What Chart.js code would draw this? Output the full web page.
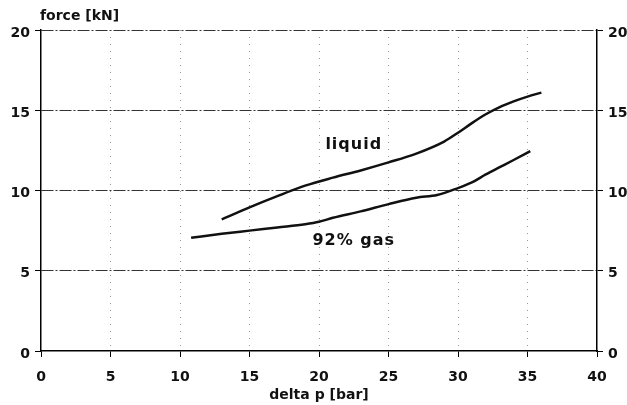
<!DOCTYPE html>
<html>
<head>
<meta charset="utf-8">
<script src="https://cdn.jsdelivr.net/npm/chart.js@4.4.0/dist/chart.umd.min.js"></script>
<style>
  html, body { margin: 0; padding: 0; background: #fff; }
  #wrap { width: 627px; height: 405px; position: relative; }
</style>
</head>
<body>
<div id="wrap"><canvas id="chart"></canvas></div>
<script>
// values
const xTicks = [0, 5, 10, 15, 20, 25, 30, 35, 40]
const yTicks = [0, 5, 10, 15, 20]

const liquidP = [13, 15, 17, 19, 21, 23, 25, 27, 29, 30, 31, 32, 33, 34, 35, 36]
const liquidF = [8.2, 8.95, 9.65, 10.3, 10.8, 11.25, 11.75, 12.3, 13.05, 13.6, 14.2, 14.75, 15.2, 15.55, 15.85, 16.1]

const gasP = [10.8, 13, 15, 17, 19, 20, 21, 23, 25, 27, 28.5, 30, 31, 32, 33, 34, 35.2]
const gasF = [7.05, 7.3, 7.5, 7.7, 7.9, 8.05, 8.3, 8.7, 9.15, 9.55, 9.72, 10.15, 10.5, 11.0, 11.45, 11.9, 12.45]

const seriesNames = ['liquid', '92% gas']
const yTitle = 'force [kN]'
const xTitle = 'delta p [bar]'

const FONT = 'DejaVu Sans'
const INK = '#111'
const NONE = 'rgba(0,0,0,0)'

function toPoints(xs, ys) {
  return xs.map((x, i) => ({ x: x, y: ys[i] }))
}

// text labels placed in data coordinates next to each curve
const curveLabels = {
  id: 'curveLabels',
  afterDatasetsDraw(chart) {
    const { ctx, scales: { x, y }, chartArea } = chart
    ctx.save()
    ctx.fillStyle = INK
    ctx.font = 'bold 16px "' + FONT + '"'
    ctx.textAlign = 'center'
    ctx.textBaseline = 'middle'
    if ('letterSpacing' in ctx) ctx.letterSpacing = '1px'
    ctx.fillText(seriesNames[0], x.getPixelForValue(22.5), y.getPixelForValue(12.85))
    ctx.fillText(seriesNames[1], x.getPixelForValue(22.5), y.getPixelForValue(6.85))
    if ('letterSpacing' in ctx) ctx.letterSpacing = '0px'
    // axis caption above the left axis
    ctx.font = 'bold 14px "' + FONT + '"'
    ctx.textAlign = 'left'
    ctx.fillText(yTitle, chartArea.left - 1, 16)
    ctx.restore()
  }
}

const yAxis = (pos, w, showGrid) => ({
  type: 'linear',
  position: pos,
  min: 0,
  max: 20,
  afterBuildTicks: s => { s.ticks = yTicks.map(v => ({ value: v })) },
  afterFit: s => { s.width = w },
  border: { display: true, color: '#000', width: 1.5, dash: [12, 2, 2, 2] },
  grid: {
    display: true,
    drawOnChartArea: showGrid,
    color: c => (c.tick && c.tick.value === 0 ? NONE : '#333'),
    lineWidth: 1,
    tickLength: 6,
    tickColor: '#000',
    tickBorderDash: []
  },
  ticks: {
    color: INK,
    font: { family: FONT, size: 14, weight: 'bold' },
    padding: 5,
    labelOffset: 3
  }
})

new Chart(document.getElementById('chart'), {
  type: 'line',
  data: {
    datasets: [
      {
        label: seriesNames[0],
        data: toPoints(liquidP, liquidF),
        borderColor: '#111',
        borderWidth: 2.5,
        pointRadius: 0,
        cubicInterpolationMode: 'monotone'
      },
      {
        label: seriesNames[1],
        data: toPoints(gasP, gasF),
        borderColor: '#111',
        borderWidth: 2.5,
        pointRadius: 0,
        cubicInterpolationMode: 'monotone'
      }
    ]
  },
  options: {
    responsive: true,
    maintainAspectRatio: false,
    animation: false,
    layout: { padding: { top: 30, left: 0, right: 0, bottom: 0 } },
    plugins: {
      legend: { display: false },
      tooltip: { enabled: false }
    },
    scales: {
      x: {
        type: 'linear',
        min: 0,
        max: 40,
        afterBuildTicks: s => { s.ticks = xTicks.map(v => ({ value: v })) },
        afterFit: s => { s.height = 54 },
        border: { display: true, color: '#000', width: 1.5, dash: [1, 6] },
        grid: {
          display: true,
          color: c => (c.tick && (c.tick.value === 0 || c.tick.value === 40) ? NONE : '#999'),
          lineWidth: 1,
          tickLength: 6,
          tickColor: '#000',
          tickBorderDash: []
        },
        ticks: {
          color: INK,
          font: { family: FONT, size: 14, weight: 'bold' },
          padding: 12,
          maxRotation: 0
        },
        title: {
          display: true,
          text: xTitle,
          color: INK,
          font: { family: FONT, size: 14, weight: 'bold' },
          padding: { top: 0, bottom: 1 }
        }
      },
      y: yAxis('left', 41, true),
      y2: yAxis('right', 30, false)
    }
  },
  plugins: [curveLabels]
})
</script>
</body>
</html>
